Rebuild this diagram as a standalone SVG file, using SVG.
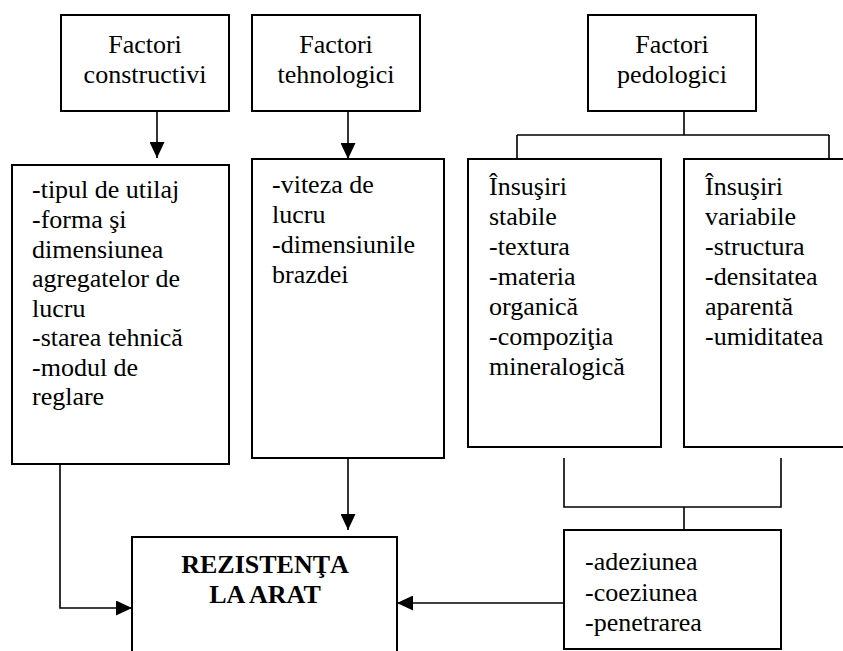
<svg xmlns="http://www.w3.org/2000/svg" width="843" height="651" viewBox="0 0 843 651">
<style>
  .box { fill: #fff; stroke: #000; stroke-width: 2; }
  .ln { fill: none; stroke: #000; stroke-width: 1.6; }
</style>
<defs>
  <marker id="ah" viewBox="0 0 16 15" refX="16" refY="7.5" markerWidth="16" markerHeight="15" markerUnits="userSpaceOnUse" orient="auto">
    <path d="M0,0 L16,7.5 L0,15 Z" fill="#000"/>
  </marker>
</defs>
<rect width="843" height="651" fill="#fff"/>

<g id="connectors">
  <line class="ln" x1="157" y1="111" x2="157" y2="158" marker-end="url(#ah)"/>
  <line class="ln" x1="348" y1="111" x2="348" y2="159" marker-end="url(#ah)"/>
  <path class="ln" d="M684,111 V135 M517,135 H829 M517,135 V159 M829,135 V159"/>
  <line class="ln" x1="348" y1="458" x2="348" y2="530" marker-end="url(#ah)"/>
  <path class="ln" d="M564,458 V507 H781 V458 M684,507 V530"/>
  <path class="ln" d="M60,464 V608 H132" marker-end="url(#ah)"/>
  <line class="ln" x1="564" y1="603" x2="397" y2="603" marker-end="url(#ah)"/>
</g>

<g id="factori-constructivi">
  <rect class="box" x="61" y="15" width="168" height="96"/>
  <text x="145" y="53" font-family="Liberation Serif" font-size="26" text-anchor="middle">Factori</text>
  <text x="145" y="83" font-family="Liberation Serif" font-size="26" text-anchor="middle">constructivi</text>
</g>

<g id="factori-tehnologici">
  <rect class="box" x="252" y="15" width="168" height="96"/>
  <text x="336" y="53" font-family="Liberation Serif" font-size="26" text-anchor="middle">Factori</text>
  <text x="336" y="83" font-family="Liberation Serif" font-size="26" text-anchor="middle">tehnologici</text>
</g>

<g id="factori-pedologici">
  <rect class="box" x="588" y="15" width="168" height="96"/>
  <text x="672" y="53" font-family="Liberation Serif" font-size="26" text-anchor="middle">Factori</text>
  <text x="672" y="83" font-family="Liberation Serif" font-size="26" text-anchor="middle">pedologici</text>
</g>

<g id="lista-constructivi">
  <rect class="box" x="12" y="165" width="217" height="299"/>
  <text x="32" y="198" font-family="Liberation Serif" font-size="26">-tipul de utilaj</text>
  <text x="32" y="228" font-family="Liberation Serif" font-size="26">-forma şi</text>
  <text x="32" y="257.5" font-family="Liberation Serif" font-size="26">dimensiunea</text>
  <text x="32" y="287" font-family="Liberation Serif" font-size="26">agregatelor de</text>
  <text x="32" y="316.5" font-family="Liberation Serif" font-size="26">lucru</text>
  <text x="32" y="346" font-family="Liberation Serif" font-size="26">-starea tehnică</text>
  <text x="32" y="375.5" font-family="Liberation Serif" font-size="26">-modul de</text>
  <text x="32" y="405" font-family="Liberation Serif" font-size="26">reglare</text>
</g>

<g id="lista-tehnologici">
  <rect class="box" x="252" y="159" width="192" height="299"/>
  <text x="272" y="193" font-family="Liberation Serif" font-size="26">-viteza de</text>
  <text x="272" y="223" font-family="Liberation Serif" font-size="26">lucru</text>
  <text x="272" y="253" font-family="Liberation Serif" font-size="26">-dimensiunile</text>
  <text x="272" y="283" font-family="Liberation Serif" font-size="26">brazdei</text>
</g>

<g id="insusiri-stabile">
  <rect class="box" x="468" y="159" width="193" height="288"/>
  <text x="489" y="195" font-family="Liberation Serif" font-size="26">Însuşiri</text>
  <text x="489" y="225" font-family="Liberation Serif" font-size="26">stabile</text>
  <text x="489" y="255" font-family="Liberation Serif" font-size="26">-textura</text>
  <text x="489" y="285" font-family="Liberation Serif" font-size="26">-materia</text>
  <text x="489" y="315" font-family="Liberation Serif" font-size="26">organică</text>
  <text x="489" y="345" font-family="Liberation Serif" font-size="26">-compoziţia</text>
  <text x="489" y="375" font-family="Liberation Serif" font-size="26">mineralogică</text>
</g>

<g id="insusiri-variabile">
  <rect class="box" x="684" y="159" width="175" height="288"/>
  <text x="705" y="195" font-family="Liberation Serif" font-size="26">Însuşiri</text>
  <text x="705" y="225" font-family="Liberation Serif" font-size="26">variabile</text>
  <text x="705" y="255" font-family="Liberation Serif" font-size="26">-structura</text>
  <text x="705" y="285" font-family="Liberation Serif" font-size="26">-densitatea</text>
  <text x="705" y="315" font-family="Liberation Serif" font-size="26">aparentă</text>
  <text x="705" y="345" font-family="Liberation Serif" font-size="26">-umiditatea</text>
</g>

<g id="proprietati">
  <rect class="box" x="564" y="530" width="217" height="119"/>
  <text x="585" y="570" font-family="Liberation Serif" font-size="26">-adeziunea</text>
  <text x="585" y="601" font-family="Liberation Serif" font-size="26">-coeziunea</text>
  <text x="585" y="631" font-family="Liberation Serif" font-size="26">-penetrarea</text>
</g>

<g id="rezistenta">
  <rect class="box" x="132" y="537" width="265" height="130"/>
  <text x="265" y="573" font-family="Liberation Serif" font-size="26" font-weight="bold" text-anchor="middle">REZISTENŢA</text>
  <text x="265" y="603" font-family="Liberation Serif" font-size="26" font-weight="bold" text-anchor="middle">LA ARAT</text>
</g>
</svg>
